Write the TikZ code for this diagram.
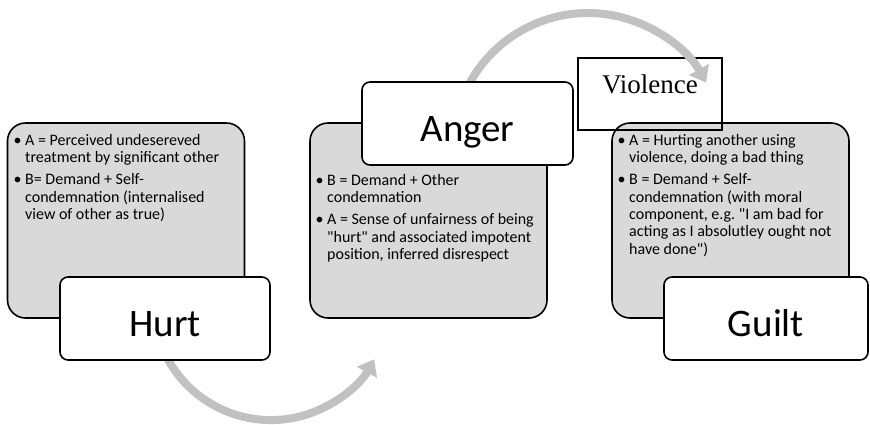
\documentclass[tikz,border=0pt]{standalone}
\usepackage{fontspec}
\setmainfont{Carlito}
\newfontfamily\timesfont{Liberation Serif}
\usepackage{tikz}
\usetikzlibrary{arrows.meta}
\definecolor{boxgray}{RGB}{217,217,217}
\definecolor{arcgray}{RGB}{192,193,192}
\newcommand{\bitem}{\rule{0pt}{12pt}\llap{\textbullet\hspace{3.5pt}}}
\newcommand{\bnext}{\llap{\textbullet\hspace{3.5pt}}}
\newcommand{\qq}{\textquotedbl}

\begin{document}
\begin{tikzpicture}[x=1pt,y=1pt,
      graybox/.style={draw,line width=1.6pt,rounded corners=18pt,fill=boxgray,
        minimum width=237pt,minimum height=195pt},
      namebox/.style={draw,line width=1.6pt,rounded corners=8pt,fill=white,
        minimum height=83pt,font=\fontsize{39}{47}\selectfont,
        text height=35pt,text depth=0pt},
      bultext/.style={anchor=north west,inner sep=0pt,align=left,
        font=\fontsize{16}{17.3}\selectfont},
      turnarrow/.style={arcgray,line width=8pt,-{Triangle[length=15pt,width=22pt]}}]

      \useasboundingbox (0,0) rectangle (870,-424);

      \coordinate (hurtArcStart) at (160.1,-342.4);
      \coordinate (angerArcStart) at (457.6,-113.1);

      \draw[turnarrow] (hurtArcStart) arc[start angle=200,end angle=331,radius=118pt];

      \node[graybox] (hurtBox) at (126,-220.5) {};
      \node[graybox] (angerBox) at (428.5,-220.5) {};
      \node[graybox] (guiltBox) at (730.5,-220.5) {};

      \node[draw,line width=1.4pt,minimum width=144pt,minimum height=72pt,
        font=\timesfont\fontsize{27}{32}\selectfont,text height=18pt,text depth=20pt]
        (violence) at (650,-94) {Violence};

      \draw[turnarrow] (angerArcStart) arc[start angle=165,end angle=29,radius=135pt];

      \node[namebox,minimum width=210pt] (hurt) at (165,-318.5) {Hurt};
      \node[namebox,minimum width=211pt] (anger) at (467.5,-123.5) {Anger};
      \node[namebox,minimum width=204pt] (guilt) at (766,-318.5) {Guilt};

      \node[bultext] (hurtText) at (25,-133)
      {\bitem A = Perceived undesereved\\ treatment by significant other\\[5pt]
       \bnext B= Demand + Self-\\ condemnation (internalised\\ view of other as true)};

      \node[bultext] (angerText) at (327,-173)
      {\bitem B = Demand + Other\\ condemnation\\[5pt]
       \bnext A = Sense of unfairness of being\\ \qq hurt\qq{} and associated impotent\\
       position, inferred disrespect};

      \node[bultext] (guiltText) at (629,-133)
      {\bitem A = Hurting another using\\ violence, doing a bad thing\\[5pt]
       \bnext B = Demand + Self-\\ condemnation (with moral\\
       component, e.g.\ \qq I am bad for\\ acting as I absolutley ought not\\ have done\qq)};
    \end{tikzpicture}
\end{document}
